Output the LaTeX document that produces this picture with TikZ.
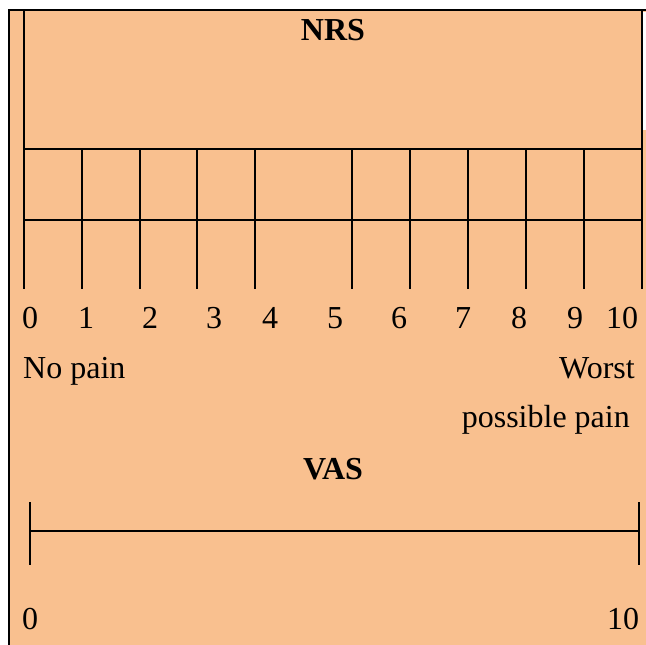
\documentclass[tikz,border=0pt]{standalone}
\usepackage{fontspec}
\setmainfont{Liberation Serif}
\definecolor{bgorange}{RGB}{249,192,143}
\begin{document}
\begin{tikzpicture}[x=1pt,y=-1pt,
  thick line/.style={line width=2.8pt},
  thin line/.style={line width=1.4pt},
  lbl/.style={inner sep=0pt,anchor=base,font=\fontsize{32}{38}\selectfont},
  ttl/.style={inner sep=0pt,anchor=base,font=\fontsize{32}{38}\selectfont\bfseries}]
\useasboundingbox (0,0) rectangle (646,645);
\fill[white] (0,0) rectangle (646,645);
\fill[bgorange] (9,10) rectangle (646,645);
\fill[white] (643,11.5) rectangle (646,130);
% outer frame lines
\draw[thick line] (9,645) -- (9,10) -- (646,10);
% NRS box
\draw[thick line] (24,10) -- (24,289);
\draw[thick line] (642,10) -- (642,289);
\draw[thick line] (24,149) -- (642,149);
\draw[thick line] (24,220) -- (642,220);
\foreach \x in {82,140,197,255,352,410,468,526,584}
  \draw[thick line] (\x,149) -- (\x,289);
% NRS labels
\node[ttl] (nrs) at (333,41) {NRS};
\node[lbl] (n0) at (30,328) {0};
\node[lbl] (n1) at (86,328) {1};
\node[lbl] (n2) at (150,328) {2};
\node[lbl] (n3) at (214,328) {3};
\node[lbl] (n4) at (270,328) {4};
\node[lbl] (n5) at (335,328) {5};
\node[lbl] (n6) at (399,328) {6};
\node[lbl] (n7) at (463,328) {7};
\node[lbl] (n8) at (519,328) {8};
\node[lbl] (n9) at (575,328) {9};
\node[lbl] (n10) at (622,328) {10};
\node[lbl,anchor=base west] (nopain) at (23,378) {No pain};
\node[lbl,anchor=base east] (worst) at (635,378) {Worst};
\node[lbl,anchor=base east] (possible) at (630,427) {possible pain};
% VAS
\node[ttl] (vas) at (333,479) {VAS};
\coordinate (vl) at (30,531);
\coordinate (vr) at (639,531);
\draw[thin line] (vl) -- (vr);
\draw[thin line] (30,502) -- (30,565);
\draw[thin line] (639,502) -- (639,565);
\node[lbl] (v0) at (30,629) {0};
\node[lbl] (v10) at (623,629) {10};
\end{tikzpicture}
\end{document}
